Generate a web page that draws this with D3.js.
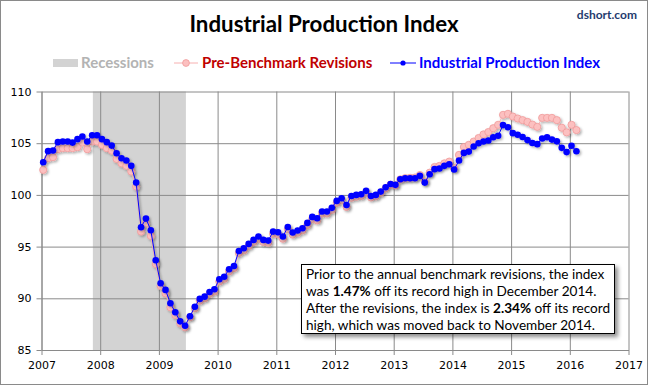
<!DOCTYPE html>
<html lang="en">

<head>
  <meta charset="UTF-8">
  <title>Industrial Production Index</title>
  <script src="https://d3js.org/d3.v7.min.js"></script>
  <style>
    body { margin: 0; background: #fff; }
    svg { display: block; }
    text { font-family: Lato, "DejaVu Sans", sans-serif; }
  </style>
</head>

<body>
  <script>
    // monthly values, Jan 2007 .. Feb 2016
    const startYear = 2007;

    const ipIndex = [
      103.16, 104.23, 104.29, 105.10, 105.16, 105.16, 105.06, 105.39, 105.65, 105.16, 105.77, 105.77,
      105.39, 105.10, 104.77, 104.03, 103.55, 103.32, 102.81, 101.19, 96.87, 97.71, 96.58, 93.68,
      91.45, 90.81, 89.52, 88.65, 87.77, 87.35, 88.26, 89.19, 89.94, 90.16, 90.61, 90.87,
      91.84, 92.09, 92.81, 93.13, 94.58, 94.84, 95.26, 95.65, 95.97, 95.65, 95.58, 96.45,
      96.39, 95.97, 96.90, 96.37, 96.55, 96.78, 97.29, 97.87, 97.74, 98.40, 98.40, 98.75,
      99.42, 99.68, 99.03, 99.90, 100.00, 100.07, 100.39, 99.90, 100.00, 100.32, 100.74, 101.06,
      100.97, 101.52, 101.61, 101.61, 101.61, 101.84, 101.19, 102.00, 102.49, 102.55, 102.81, 102.97,
      102.45, 103.32, 104.06, 104.19, 104.68, 105.00, 105.16, 105.26, 105.57, 105.72, 106.75, 106.54,
      105.97, 105.81, 105.60, 105.30, 105.02, 104.91, 105.45, 105.58, 105.35, 105.18, 104.55, 104.14,
      104.75, 104.22
    ];

    const preBenchmark = [
      102.42, 103.55, 103.65, 104.42, 104.52, 104.52, 104.52, 104.61, 105.06, 104.42, 105.16, 105.16,
      104.84, 104.52, 104.29, 103.48, 103.06, 102.81, 102.26, 100.81, 96.45, 97.26, 96.03, 93.32,
      91.19, 90.48, 89.13, 88.39, 87.58, 87.19, 88.16, 89.03, 89.77, 90.00, 90.42, 90.65,
      91.62, 91.88, 92.60, 92.92, 94.38, 94.63, 95.05, 95.44, 95.76, 95.44, 95.37, 96.24,
      96.18, 95.76, 96.69, 96.16, 96.34, 96.57, 97.08, 97.66, 97.53, 98.19, 98.20, 98.55,
      99.22, 99.48, 98.84, 99.72, 99.82, 99.90, 100.22, 99.75, 99.86, 100.20, 100.64, 100.98,
      100.92, 101.50, 101.62, 101.65, 101.68, 101.92, 101.30, 102.15, 102.70, 102.80, 103.05, 103.22,
      102.60, 103.87, 104.63, 104.84, 105.16, 105.50, 105.85, 106.08, 106.45, 106.78, 107.74, 107.84,
      107.58, 107.39, 107.23, 107.06, 106.80, 106.58, 107.45, 107.45, 107.45, 107.23, 106.50, 106.05,
      106.78, 106.27
    ];

    // recession span in decimal years
    const recession = [2007.875, 2009.46];

    const xTicks = [2007, 2008, 2009, 2010, 2011, 2012, 2013, 2014, 2015, 2016, 2017];
    const yTicks = [85, 90, 95, 100, 105, 110];

    // annotation lines, [text, bold]
    const noteLines = [
      [["Prior to the annual benchmark revisions, the index", false]],
      [["was ", false], ["1.47%", true], [" off its record high in December 2014.", false]],
      [["After the revisions, the index is ", false], ["2.34%", true], [" off its record", false]],
      [["high, which was moved back to November 2014.", false]]
    ];

    const w = 648;
    const h = 385;
    const plot = { left: 41.5, right: 628.5, top: 91.5, bottom: 350 };

    const xScale = d3.scaleLinear()
      .domain([2007, 2017])
      .range([plot.left, plot.right]);

    const yScale = d3.scaleLinear()
      .domain([85, 110])
      .range([plot.bottom, plot.top]);

    // month index -> decimal year (points sit a little after the 1st)
    const monthX = i => xScale(startYear + (i + 0.35) / 12);

    const svg = d3.select('body')
      .append('svg')
      .attr('width', w)
      .attr('height', h);

    const defs = svg.append('defs');
    const shadow = defs.append('filter').attr('id', 'shadow')
      .attr('x', '-20%').attr('y', '-20%').attr('width', '140%').attr('height', '140%');
    shadow.append('feDropShadow')
      .attr('dx', 1.5).attr('dy', 1.5).attr('stdDeviation', 1.2)
      .attr('flood-color', '#000').attr('flood-opacity', 0.3);

    const boxShadow = defs.append('filter').attr('id', 'boxShadow')
      .attr('x', '-10%').attr('y', '-10%').attr('width', '120%').attr('height', '130%');
    boxShadow.append('feDropShadow')
      .attr('dx', 3).attr('dy', 3).attr('stdDeviation', 2)
      .attr('flood-color', '#000').attr('flood-opacity', 0.45);

    // outer frame
    svg.append('rect')
      .attr('x', 0.5).attr('y', 0.5)
      .attr('width', w - 1).attr('height', h - 1)
      .attr('fill', '#fff')
      .attr('stroke', '#8a8a8a');

    // title + source
    svg.append('text')
      .attr('x', 324).attr('y', 32)
      .attr('text-anchor', 'middle')
      .attr('font-size', 22.3)
      .attr('font-weight', 'bold')
      .attr('fill', '#000')
      .text('Industrial Production Index');

    svg.append('text')
      .attr('x', 637).attr('y', 19)
      .attr('text-anchor', 'end')
      .attr('font-size', 12)
      .attr('font-weight', 'bold')
      .attr('fill', '#1f3b6e')
      .text('dshort.com');

    // recession band
    svg.append('rect')
      .attr('x', xScale(recession[0]))
      .attr('y', plot.top)
      .attr('width', xScale(recession[1]) - xScale(recession[0]))
      .attr('height', plot.bottom - plot.top)
      .attr('fill', '#d3d3d3');

    // grid
    svg.append('g')
      .attr('class', 'grid')
      .attr('transform', `translate(0,${plot.bottom})`)
      .call(d3.axisBottom(xScale).tickValues(xTicks).tickSize(-(plot.bottom - plot.top)).tickFormat(''))
      .call(g => g.select('.domain').remove());

    svg.append('g')
      .attr('class', 'grid')
      .attr('transform', `translate(${plot.left},0)`)
      .call(d3.axisLeft(yScale).tickValues(yTicks).tickSize(-(plot.right - plot.left)).tickFormat(''))
      .call(g => g.select('.domain').remove());

    svg.selectAll('.grid line')
      .attr('stroke', '#8a8a8a')
      .attr('stroke-width', 1);

    // axes
    const xAxis = svg.append('g')
      .attr('transform', `translate(0,${plot.bottom})`)
      .call(d3.axisBottom(xScale).tickValues(xTicks).tickFormat(d3.format('d')).tickSize(5).tickSizeOuter(0).tickPadding(6));

    const yAxis = svg.append('g')
      .attr('transform', `translate(${plot.left},0)`)
      .call(d3.axisLeft(yScale).tickValues(yTicks).tickSize(5).tickSizeOuter(0).tickPadding(5));

    [xAxis, yAxis].forEach(a => {
      a.selectAll('.domain, line').attr('stroke', '#8a8a8a');
      a.selectAll('text')
        .attr('fill', '#000')
        .style('font-family', '"DejaVu Sans", sans-serif')
        .style('font-size', '11px');
    });

    // series
    const line = d3.line()
      .x((d, i) => monthX(i))
      .y(d => yScale(d));

    const pinkG = svg.append('g').attr('filter', 'url(#shadow)');
    pinkG.append('path')
      .datum(preBenchmark)
      .attr('d', line)
      .attr('fill', 'none')
      .attr('stroke', '#f7b0b0')
      .attr('stroke-width', 1);
    pinkG.selectAll('circle')
      .data(preBenchmark)
      .enter()
      .append('circle')
      .attr('cx', (d, i) => monthX(i))
      .attr('cy', d => yScale(d))
      .attr('r', 3.6)
      .attr('fill', '#fcc0c0')
      .attr('stroke', '#f09a9a')
      .attr('stroke-width', 0.8);

    const blueG = svg.append('g').attr('filter', 'url(#shadow)');
    blueG.append('path')
      .datum(ipIndex)
      .attr('d', line)
      .attr('fill', 'none')
      .attr('stroke', '#0000ff')
      .attr('stroke-width', 1);
    blueG.selectAll('circle')
      .data(ipIndex)
      .enter()
      .append('circle')
      .attr('cx', (d, i) => monthX(i))
      .attr('cy', d => yScale(d))
      .attr('r', 3.3)
      .attr('fill', '#0000ff');

    // legend
    const legend = svg.append('g').attr('font-size', 15).attr('font-weight', 'bold');

    legend.append('rect')
      .attr('x', 53).attr('y', 59).attr('width', 25).attr('height', 8)
      .attr('fill', '#d3d3d3');
    legend.append('text')
      .attr('x', 81).attr('y', 68)
      .attr('fill', '#b3b3b3')
      .text('Recessions');

    legend.append('line')
      .attr('x1', 174).attr('x2', 198).attr('y1', 63).attr('y2', 63)
      .attr('stroke', '#f7b0b0');
    legend.append('circle')
      .attr('cx', 186).attr('cy', 63).attr('r', 3.4)
      .attr('fill', '#fcc0c0').attr('stroke', '#f09a9a').attr('stroke-width', 0.8);
    legend.append('text')
      .attr('x', 202).attr('y', 68)
      .attr('fill', '#c00000')
      .text('Pre-Benchmark Revisions');

    legend.append('line')
      .attr('x1', 390).attr('x2', 416).attr('y1', 63).attr('y2', 63)
      .attr('stroke', '#0000ff');
    legend.append('circle')
      .attr('cx', 403).attr('cy', 63).attr('r', 2.6)
      .attr('fill', '#0000ff');
    legend.append('text')
      .attr('x', 419).attr('y', 68)
      .attr('fill', '#0000ff')
      .text('Industrial Production Index');

    // annotation box
    svg.append('rect')
      .attr('x', 301.5).attr('y', 264.5)
      .attr('width', 313).attr('height', 69)
      .attr('fill', '#fff')
      .attr('stroke', '#000')
      .attr('filter', 'url(#boxShadow)');

    const note = svg.append('text')
      .attr('font-size', 13.6)
      .attr('fill', '#000');

    noteLines.forEach((parts, k) => {
      const row = note.append('tspan')
        .attr('x', 306)
        .attr('y', 279 + k * 16.9);
      parts.forEach(([str, bold]) => {
        row.append('tspan')
          .attr('font-weight', bold ? 'bold' : null)
          .text(str);
      });
    });
  </script>
</body>

</html>
